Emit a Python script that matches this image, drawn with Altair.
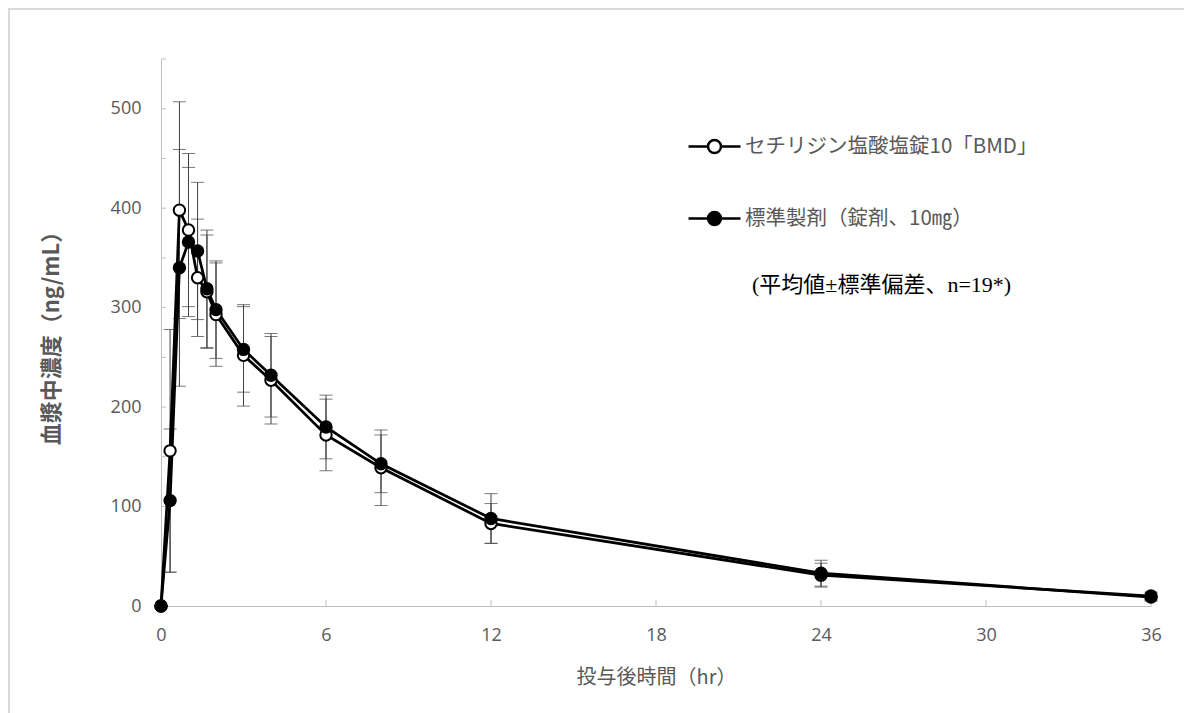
import altair as alt
import pandas as pd

# ---- data ----
times = [0, 0.33, 0.67, 1, 1.33, 1.67, 2, 3, 4, 6, 8, 12, 24, 36]
test_mean = [0, 156, 398, 378, 330, 316, 293, 252, 227, 172, 139, 83, 31, 10]
test_sd = [0, 122, 109, 77, 59, 57, 52, 51, 44, 36, 38, 20, 12, 4]
ref_mean = [0, 106, 340, 366, 357, 319, 298, 258, 232, 180, 143, 88, 33, 9]
ref_sd = [0, 72, 119, 75, 69, 59, 49, 43, 42, 32, 29, 25, 13, 4]

series_names = ["セチリジン塩酸塩錠10「BMD」", "標準製剤（錠剤、10㎎）"]
note_text = "(平均値±標準偏差、n=19*)"
x_title = "投与後時間（hr）"
y_title = "血漿中濃度（ng/mL）"
x_tick_values = [0, 6, 12, 18, 24, 30, 36]
y_label_values = [0, 100, 200, 300, 400, 500]
y_tick_values = [50, 100, 150, 200, 250, 300, 350, 400, 450, 500, 550]
x_inner_ticks = [6, 12, 18, 24, 30, 36]

rows = []
for name, means, sds in [(series_names[0], test_mean, test_sd),
                         (series_names[1], ref_mean, ref_sd)]:
    for t, m, s in zip(times, means, sds):
        rows.append({"time": t, "series": name, "mean": m, "lo": m - s, "hi": m + s})
df = pd.DataFrame(rows)

GRAY = "#595959"
AXIS_GRAY = "#bfbfbf"

xscale = alt.Scale(domain=[0, 36], nice=False)
yscale = alt.Scale(domain=[0, 550], nice=False)
xaxis = alt.Axis(values=x_tick_values, title=x_title, labelPadding=20, titlePadding=23,
                 titleFontSize=20, titleFontWeight="normal", labelFlush=False)
yaxis = alt.Axis(values=y_label_values, title=y_title, labelPadding=20, titlePadding=47,
                 titleFontSize=22, titleFontWeight="bold", labelFlush=False)

LEGEND_PATH = ("M-1,0L-0.25,0M0.25,0L1,0M0.25,0A0.25,0.25,0,1,1,-0.25,0"
               "A0.25,0.25,0,1,1,0.25,0Z")

base = alt.Chart(df)

frame = alt.Chart(alt.Data(values=[{"k": 1}])).mark_rect(
    filled=False, stroke="#d9d9d9", strokeWidth=2
).encode(x=alt.value(-152), x2=alt.value(1024), y=alt.value(-50), y2=alt.value(720))

err = base.mark_rule(color="#404040", strokeWidth=1).encode(
    x=alt.X("time:Q", scale=xscale, axis=xaxis),
    y=alt.Y("lo:Q", scale=yscale, axis=yaxis),
    y2="hi:Q",
)

caps = base.transform_fold(["lo", "hi"], as_=["end", "val"]).mark_tick(
    orient="horizontal", size=13, thickness=1, color="#404040"
).encode(
    x=alt.X("time:Q", scale=xscale, axis=xaxis),
    y=alt.Y("val:Q", scale=yscale, axis=yaxis),
)

lines = base.mark_line(color="black", strokeWidth=2.75).encode(
    x=alt.X("time:Q", scale=xscale, axis=xaxis),
    y=alt.Y("mean:Q", scale=yscale, axis=yaxis),
    detail="series:N",
)

points = base.mark_point(filled=True, size=130, stroke="black", strokeWidth=2, opacity=1).encode(
    x=alt.X("time:Q", scale=xscale, axis=xaxis),
    y=alt.Y("mean:Q", scale=yscale, axis=yaxis),
    fill=alt.Fill(
        "series:N",
        scale=alt.Scale(domain=series_names, range=["white", "black"]),
        legend=alt.Legend(
            title=None, orient="none", legendX=526, legendY=60,
            symbolType=LEGEND_PATH, symbolSize=2704, symbolStrokeWidth=2.5,
            symbolStrokeColor="black", symbolOpacity=1,
            labelFont="Noto Sans CJK JP", labelFontSize=20.5, labelColor=GRAY,
            labelOffset=3, rowPadding=33, padding=0, labelLimit=600,
        ),
    ),
)

ytick_df = pd.DataFrame({"v": y_tick_values})
xtick_df = pd.DataFrame({"v": x_inner_ticks})
yticks = alt.Chart(ytick_df).mark_rule(color=AXIS_GRAY, strokeWidth=1).encode(
    y=alt.Y("v:Q", scale=yscale, axis=yaxis), x=alt.value(0), x2=alt.value(5)
)
xticks = alt.Chart(xtick_df).mark_rule(color=AXIS_GRAY, strokeWidth=1).encode(
    x=alt.X("v:Q", scale=xscale, axis=xaxis), y=alt.value(547), y2=alt.value(541)
)

note = alt.Chart(alt.Data(values=[{"t": note_text}])).mark_text(
    align="left", baseline="middle", font="Liberation Serif, Noto Sans CJK JP",
    fontSize=22, color="black"
).encode(text="t:N", x=alt.value(591), y=alt.value(226))

chart = alt.layer(frame, yticks, xticks, err, caps, lines, points, note).properties(
    width=990, height=547,
    padding={"left": 153, "top": 51, "right": 33, "bottom": 107},
    autosize=alt.AutoSizeParams(type="none"),
).configure_view(strokeWidth=0).configure_axis(
    grid=False, ticks=False, domainColor=AXIS_GRAY, domainWidth=1,
    labelColor=GRAY, labelFont="Open Sans", labelFontSize=18,
    titleColor=GRAY, titleFont="Noto Sans CJK JP",
)

chart.save("out.html", embed_options={"renderer": "svg", "actions": False})
